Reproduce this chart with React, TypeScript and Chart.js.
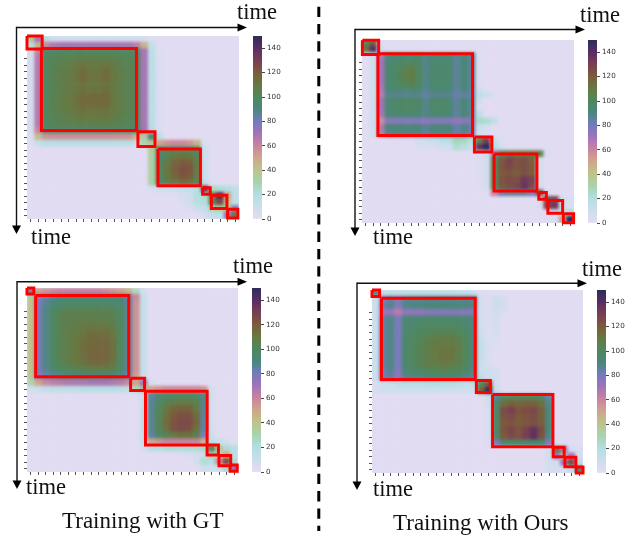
import React, { useEffect, useRef } from "react";
import { Chart, registerables } from "chart.js";

Chart.register(...registerables);

const GRID = 28;
const BAR_TICKS_MAX = 150;
const xTicks = [0.5, 1.5, 2.5, 3.5, 4.5, 5.5, 6.5, 7.5, 8.5, 9.5, 10.5, 11.5, 12.5, 13.5, 14.5, 15.5, 16.5, 17.5, 18.5, 19.5, 20.5, 21.5, 22.5, 23.5, 24.5, 25.5, 26.5, 27.5];
const yTicks = [3.5, 4.5, 5.5, 6.5, 7.5, 8.5, 9.5, 10.5, 11.5, 12.5, 13.5, 14.5, 15.5, 16.5, 17.5, 18.5, 19.5, 20.5, 21.5, 22.5, 23.5, 24.5, 25.5, 26.5, 27.5];

const cmapStops = [
  [0, 226, 220, 242], [10, 202, 222, 236], [20, 178, 222, 224], [30, 168, 210, 170],
  [40, 190, 195, 140], [50, 205, 165, 140], [60, 200, 130, 160], [70, 160, 115, 185],
  [80, 112, 125, 185], [90, 74, 135, 122], [100, 80, 135, 94], [110, 104, 120, 65],
  [120, 125, 90, 60], [130, 120, 60, 85], [140, 85, 45, 100], [150, 42, 45, 90],
];

const boxesA = [[0, 2], [1.9, 14.45], [14.65, 16.9], [17.3, 22.9], [23.2, 24.2], [24.35, 26.4], [26.5, 27.85]];
const boxesB = [[0.05, 2.2], [2.1, 14.6], [14.85, 17.15], [17.45, 23.1], [23.35, 24.35], [24.55, 26.5], [26.6, 27.95]];
const boxesC = [[0, 0.9], [1.15, 13.5], [13.75, 15.6], [15.72, 23.9], [23.9, 25.4], [25.48, 27.03], [26.95, 27.9]];
const boxesD = [[0, 1], [1.25, 13.7], [13.85, 15.7], [16, 24], [24.05, 25.5], [25.6, 27.05], [27.1, 28]];

// each row: first number = first column, then cell values (all other cells are 0)
const heatA = [
  [0, 40, 70, 20, 8, 8, 8, 8, 8, 8, 8, 8, 8, 8, 8, 8, 6, 2],
  [0, 20, 45, 58, 66, 68, 68, 68, 68, 68, 68, 68, 68, 68, 68, 62, 45, 12, 2],
  [0, 6, 62, 95, 98, 100, 100, 100, 100, 100, 100, 100, 100, 98, 98, 95, 68, 15, 3],
  [0, 6, 65, 98, 102, 104, 104, 106, 106, 106, 106, 106, 104, 104, 102, 98, 68, 16, 3],
  [0, 6, 65, 100, 103, 105, 107, 109, 111, 110, 110, 111, 108, 105, 103, 100, 68, 16, 3],
  [0, 6, 65, 100, 104, 106, 108, 111, 114, 111, 111, 114, 109, 106, 104, 100, 68, 16, 3],
  [0, 6, 65, 100, 104, 107, 109, 112, 115, 112, 112, 115, 110, 107, 104, 100, 68, 16, 3],
  [0, 6, 65, 100, 104, 106, 108, 110, 112, 110, 110, 112, 109, 106, 104, 100, 68, 16, 3],
  [0, 6, 65, 100, 104, 106, 108, 111, 113, 112, 112, 114, 109, 106, 104, 100, 68, 16, 3],
  [0, 6, 65, 100, 104, 107, 109, 112, 115, 115, 115, 115, 110, 107, 104, 100, 68, 16, 3],
  [0, 6, 65, 100, 104, 107, 109, 112, 115, 115, 115, 115, 110, 107, 104, 100, 68, 16, 3],
  [0, 6, 65, 100, 104, 106, 108, 111, 113, 111, 111, 112, 109, 106, 104, 100, 68, 16, 3],
  [0, 6, 65, 100, 103, 105, 107, 109, 110, 109, 109, 110, 108, 105, 103, 100, 68, 16, 3],
  [0, 6, 65, 98, 102, 104, 105, 106, 106, 106, 106, 107, 105, 104, 102, 98, 68, 16, 3],
  [0, 6, 60, 94, 96, 96, 96, 96, 96, 96, 96, 96, 96, 96, 96, 94, 70, 20, 4],
  [0, 3, 42, 55, 56, 56, 56, 56, 56, 56, 56, 56, 56, 55, 55, 45, 35, 90, 15],
  [0, 2, 12, 18, 18, 18, 18, 18, 18, 18, 18, 18, 18, 18, 18, 12, 28, 36, 50, 55, 58, 58, 55, 45, 4],
  [15, 2, 35, 92, 100, 100, 100, 100, 96, 8],
  [16, 32, 92, 104, 110, 112, 110, 102, 8],
  [16, 32, 96, 108, 116, 120, 118, 106, 10],
  [16, 32, 98, 110, 118, 123, 122, 108, 10],
  [16, 32, 98, 110, 116, 122, 120, 106, 10],
  [16, 30, 94, 104, 110, 114, 112, 102, 12],
  [16, 4, 8, 10, 10, 10, 12, 18, 135, 25, 22, 20, 15],
  [20, 6, 8, 20, 25, 105, 145, 50, 15],
  [20, 4, 8, 18, 20, 100, 125, 40, 15],
  [21, 4, 10, 12, 28, 32, 32, 75],
  [23, 6, 12, 14, 75, 108],
];

const heatB = [
  [0, 100, 120, 4],
  [0, 112, 138, 8],
  [1, 8, 66, 90, 91, 92, 92, 92, 88, 92, 92, 92, 86, 89, 84, 3],
  [1, 8, 70, 92, 95, 97, 98, 96, 88, 94, 94, 92, 85, 91, 85, 3],
  [1, 8, 70, 93, 97, 102, 106, 99, 88, 95, 95, 94, 85, 91, 85, 3],
  [1, 8, 70, 93, 98, 104, 109, 101, 88, 95, 95, 94, 85, 91, 85, 3],
  [1, 8, 70, 93, 97, 102, 106, 99, 88, 95, 95, 94, 85, 91, 85, 3],
  [1, 8, 68, 92, 94, 96, 97, 95, 88, 94, 94, 92, 85, 90, 85, 6],
  [1, 8, 64, 87, 87, 87, 87, 87, 84, 87, 87, 87, 82, 85, 83, 14, 10, 4],
  [1, 8, 70, 93, 96, 98, 99, 96, 88, 96, 96, 94, 85, 91, 85, 6],
  [1, 8, 70, 93, 96, 98, 99, 96, 88, 96, 96, 94, 85, 91, 85, 3],
  [1, 8, 68, 91, 93, 93, 93, 93, 88, 93, 93, 91, 85, 90, 85, 14],
  [1, 8, 56, 75, 76, 76, 76, 76, 74, 76, 76, 76, 72, 75, 75, 24, 22, 14],
  [1, 8, 66, 90, 91, 91, 91, 91, 86, 91, 91, 91, 83, 88, 83, 10, 6],
  [1, 8, 62, 86, 88, 88, 88, 88, 84, 88, 88, 88, 82, 86, 80, 6],
  [7, 6, 8, 10, 14, 16, 28, 26, 18, 105, 130, 12, 3],
  [7, 4, 4, 4, 8, 8, 22, 18, 10, 135, 150, 18, 6],
  [15, 3, 10, 72, 102, 108, 108, 108, 108, 104, 4],
  [15, 2, 6, 100, 120, 128, 122, 124, 118, 5],
  [15, 2, 6, 102, 122, 126, 122, 124, 120, 5],
  [15, 2, 6, 102, 120, 122, 119, 124, 120, 5],
  [15, 2, 6, 102, 122, 125, 124, 133, 128, 5],
  [15, 2, 6, 100, 120, 124, 126, 135, 126, 5],
  [17, 60, 82, 85, 85, 85, 78, 125, 6],
  [23, 6, 125, 128, 8, 4],
  [23, 4, 128, 132, 10, 4],
  [25, 6, 14, 22],
  [25, 4, 50, 150],
];

const heatC = [
  [0, 80, 50, 55, 58, 60, 60, 60, 60, 60, 60, 58, 55, 52, 45, 25, 6],
  [0, 35, 72, 82, 88, 90, 92, 92, 92, 92, 92, 92, 90, 90, 82, 58, 12],
  [0, 40, 78, 86, 92, 94, 96, 96, 96, 96, 96, 96, 94, 92, 85, 55, 12],
  [0, 40, 78, 88, 97, 102, 104, 104, 104, 104, 104, 104, 102, 98, 85, 55, 12],
  [0, 40, 78, 88, 98, 104, 106, 106, 106, 106, 106, 106, 104, 99, 85, 55, 12],
  [0, 40, 78, 88, 98, 104, 106, 106, 108, 108, 108, 108, 106, 100, 85, 55, 12],
  [0, 40, 78, 88, 98, 104, 107, 108, 110, 112, 112, 112, 108, 100, 85, 55, 12],
  [0, 40, 78, 88, 98, 104, 107, 109, 112, 114, 114, 114, 110, 100, 85, 55, 12],
  [0, 40, 78, 88, 98, 104, 107, 110, 113, 115, 115, 115, 112, 100, 85, 55, 12],
  [0, 40, 78, 88, 98, 104, 107, 110, 113, 116, 116, 116, 112, 100, 85, 55, 12],
  [0, 40, 78, 88, 98, 104, 107, 110, 113, 116, 117, 116, 112, 100, 85, 55, 12],
  [0, 40, 78, 88, 97, 103, 106, 109, 112, 114, 115, 114, 110, 98, 85, 55, 12],
  [0, 40, 78, 86, 94, 98, 100, 102, 104, 106, 106, 106, 104, 95, 85, 55, 12],
  [0, 38, 72, 82, 86, 88, 90, 90, 92, 92, 92, 92, 90, 88, 80, 52, 10],
  [0, 28, 50, 58, 62, 64, 66, 66, 66, 68, 68, 68, 66, 64, 58, 50, 70, 5],
  [0, 6, 10, 14, 15, 15, 15, 15, 18, 18, 18, 18, 18, 16, 14, 25, 45, 50, 55, 58, 58, 58, 58, 58, 55, 6],
  [14, 3, 8, 84, 92, 96, 98, 98, 98, 96, 88, 6],
  [15, 10, 86, 98, 104, 106, 108, 108, 104, 88, 5],
  [15, 12, 86, 100, 110, 116, 118, 118, 110, 86, 5],
  [15, 12, 86, 102, 112, 120, 123, 123, 114, 86, 5],
  [15, 12, 86, 102, 114, 122, 125, 125, 116, 84, 5],
  [15, 12, 86, 102, 112, 122, 125, 123, 112, 84, 6],
  [15, 12, 84, 96, 102, 108, 112, 112, 104, 76, 8],
  [15, 10, 50, 55, 60, 60, 60, 60, 60, 45, 15, 12, 6],
  [15, 5, 18, 20, 22, 22, 22, 22, 22, 25, 95, 40, 22, 18],
  [20, 2, 4, 6, 10, 30, 25, 48, 15],
  [22, 6, 22, 18, 58, 125, 22],
  [23, 8, 8, 10, 25, 75],
];

const heatD = [
  [0, 90, 14, 16, 16, 16, 16, 16, 16, 16, 16, 16, 14, 14, 10, 2, 2],
  [0, 10, 75, 85, 76, 86, 87, 87, 87, 87, 87, 87, 87, 86, 85, 6, 2, 10, 6],
  [0, 10, 82, 87, 76, 87, 89, 89, 91, 91, 91, 91, 91, 89, 87, 6, 2, 10, 6],
  [0, 10, 70, 72, 64, 73, 74, 74, 76, 76, 76, 76, 76, 76, 76, 6, 2, 8, 4],
  [0, 10, 84, 87, 78, 91, 93, 93, 95, 95, 95, 95, 93, 93, 89, 6, 2, 6],
  [0, 10, 84, 88, 78, 93, 95, 97, 99, 99, 99, 99, 97, 95, 89, 6, 2, 6],
  [0, 10, 84, 88, 78, 93, 97, 99, 101, 103, 103, 103, 101, 97, 89, 8, 2, 5],
  [0, 10, 84, 88, 78, 95, 99, 101, 105, 107, 108, 108, 105, 99, 89, 10, 3, 4],
  [0, 10, 84, 88, 78, 95, 99, 103, 107, 109, 109, 109, 107, 101, 89, 12, 4, 3],
  [0, 10, 84, 88, 78, 95, 101, 103, 107, 109, 111, 111, 107, 101, 89, 12, 4],
  [0, 10, 84, 88, 78, 95, 101, 103, 107, 109, 111, 111, 107, 101, 89, 12, 4],
  [0, 10, 84, 88, 78, 95, 99, 103, 107, 107, 109, 107, 105, 99, 89, 10, 4],
  [0, 10, 82, 86, 76, 91, 95, 97, 101, 101, 103, 101, 101, 97, 87, 10, 8, 6],
  [0, 10, 78, 84, 74, 87, 89, 89, 91, 91, 91, 91, 91, 87, 83, 14, 8, 6],
  [0, 3, 8, 10, 14, 16, 16, 16, 18, 18, 18, 18, 14, 12, 14, 100, 122, 6],
  [0, 5, 8, 8, 8, 8, 8, 8, 8, 8, 8, 8, 8, 8, 8, 118, 148, 10],
  [15, 8, 86, 98, 102, 102, 102, 102, 98, 82],
  [15, 6, 92, 114, 118, 116, 118, 118, 112, 88],
  [15, 4, 96, 124, 129, 122, 124, 126, 118, 90],
  [15, 4, 98, 122, 125, 120, 122, 124, 118, 90],
  [15, 4, 96, 120, 122, 119, 121, 123, 118, 90],
  [15, 4, 98, 122, 127, 122, 129, 137, 124, 90],
  [15, 4, 96, 120, 125, 122, 129, 138, 122, 88],
  [15, 2, 76, 92, 96, 96, 96, 96, 92, 76, 6, 4],
  [23, 6, 105, 70, 5, 4],
  [23, 6, 70, 38, 70, 6],
  [23, 6, 6, 70, 125, 14],
  [23, 6, 6, 6, 16, 92],
];

const barLevels = [0, 2, 4, 6, 8, 10, 12, 14, 16, 18, 20, 22, 24, 26, 28, 30, 32, 34, 36, 38, 40, 42, 44, 46, 48, 50, 52, 54, 56, 58, 60, 62, 64, 66, 68, 70, 72, 74, 76, 78, 80, 82, 84, 86, 88, 90, 92, 94, 96, 98, 100, 102, 104, 106, 108, 110, 112, 114, 116, 118, 120, 122, 124, 126, 128, 130, 132, 134, 136, 138, 140, 142, 144, 146, 148];

const M = 8;
const PANELS = [
  { heat: heatA, boxes: boxesA, x: 27, y: 36, w: 212, h: 183, barX: 253 },
  { heat: heatB, boxes: boxesB, x: 362, y: 40, w: 212, h: 183, barX: 588 },
  { heat: heatC, boxes: boxesC, x: 27, y: 288, w: 211, h: 184, barX: 252 },
  { heat: heatD, boxes: boxesD, x: 372, y: 290, w: 211, h: 183, barX: 597 },
];
const TIMES = [
  [237, 20], [31, 245], [580, 23], [373, 245], [233, 274], [26, 495], [582, 277], [373, 497],
];
const ARROWS = [
  { x: 16.5, y: 27.5, hx: 247, vy: 234 },
  { x: 355, y: 29.5, hx: 585, vy: 236 },
  { x: 17, y: 281.7, hx: 247, vy: 489 },
  { x: 357, y: 283.3, hx: 587, vy: 490 },
];

function colorOf(v: number): string {
  for (let i = 1; i < cmapStops.length; i++) {
    const a = cmapStops[i - 1];
    const b = cmapStops[i];
    if (v <= b[0]) {
      const t = (v - a[0]) / (b[0] - a[0]);
      const c = [1, 2, 3].map((k) => Math.round(a[k] + (b[k] - a[k]) * t));
      return `rgb(${c[0]},${c[1]},${c[2]})`;
    }
  }
  const l = cmapStops[cmapStops.length - 1];
  return `rgb(${l[1]},${l[2]},${l[3]})`;
}

function cellsOf(rows: number[][]) {
  const out: { x: number; y: number; v: number }[] = [];
  rows.forEach((row, r) => {
    const start = row[0];
    for (let c = 0; c < GRID; c++) {
      const k = c - start + 1;
      const v = k >= 1 && k < row.length ? row[k] : 0;
      out.push({ x: c + 0.5, y: r + 0.5, v });
    }
  });
  return out;
}

function heatConfig(rows: number[][]): any {
  const cells = cellsOf(rows);
  return {
    type: "scatter",
    data: {
      datasets: [
        {
          data: cells,
          pointStyle: "rect",
          pointRadius: 5.7,
          pointBorderWidth: 0,
          pointBackgroundColor: (ctx: any) => colorOf(cells[ctx.dataIndex].v),
        },
      ],
    },
    options: {
      responsive: false,
      animation: false,
      layout: { padding: 0, autoPadding: false },
      plugins: { legend: { display: false }, tooltip: { enabled: false } },
      scales: {
        x: { type: "linear", min: 0, max: GRID, display: false },
        y: { type: "linear", min: 0, max: GRID, reverse: true, display: false },
      },
    },
  };
}

function timeAxis(list: number[], extra: any): any {
  return {
    type: "linear",
    min: 0,
    max: GRID,
    afterBuildTicks: (s: any) => {
      s.ticks = list.map((value) => ({ value }));
    },
    ticks: { callback: () => "", autoSkip: false, padding: 0, maxRotation: 0 },
    grid: { drawOnChartArea: false, drawTicks: true, tickLength: 3, tickColor: "#555", tickWidth: 1 },
    border: { display: false },
    ...extra,
  };
}

function overlayConfig(boxes: number[][]): any {
  return {
    type: "scatter",
    data: {
      datasets: boxes.map(([s, e]) => ({
        data: [
          { x: s, y: s },
          { x: e, y: s },
          { x: e, y: e },
          { x: s, y: e },
          { x: s, y: s },
        ],
        showLine: true,
        borderColor: "#ff0000",
        borderWidth: 3,
        borderJoinStyle: "miter",
        pointRadius: 0,
        clip: false,
      })),
    },
    options: {
      responsive: false,
      animation: false,
      layout: { padding: { top: M, right: M, left: 0, bottom: 0 }, autoPadding: false },
      plugins: { legend: { display: false }, tooltip: { enabled: false } },
      scales: {
        x: timeAxis(xTicks, { position: "bottom", afterFit: (s: any) => { s.height = M; } }),
        y: timeAxis(yTicks, { position: "left", reverse: true, afterFit: (s: any) => { s.width = M; } }),
      },
    },
  };
}

function barConfig(): any {
  return {
    type: "bar",
    data: {
      labels: ["count"],
      datasets: barLevels.map((v) => ({
        data: [[v, v + 2.6]],
        backgroundColor: colorOf(v + 1),
        borderWidth: 0,
        barPercentage: 1,
        categoryPercentage: 1,
      })),
    },
    options: {
      responsive: false,
      animation: false,
      layout: { padding: { top: M, bottom: M, left: 0, right: 0 }, autoPadding: false },
      plugins: { legend: { display: false }, tooltip: { enabled: false } },
      scales: {
        x: { display: false, stacked: false },
        y: {
          position: "right",
          min: 0,
          max: BAR_TICKS_MAX,
          afterFit: (s: any) => { s.width = 31; },
          ticks: {
            stepSize: 20,
            includeBounds: false,
            padding: 2,
            color: "#333",
            font: { family: "DejaVu Sans", size: 7.2 },
          },
          grid: { drawOnChartArea: false, drawTicks: true, tickLength: 3, tickColor: "#444" },
          border: { display: false },
        },
      },
      datasets: { bar: { grouped: false } },
    },
  };
}

function ChartCanvas({ make, left, top, width, height, blur }: any) {
  const ref = useRef<HTMLCanvasElement>(null);
  useEffect(() => {
    const chart = new Chart(ref.current as HTMLCanvasElement, make());
    return () => chart.destroy();
  }, []);
  return (
    <canvas
      ref={ref}
      width={width}
      height={height}
      style={{ position: "absolute", left, top, width, height, filter: blur ? `blur(${blur}px)` : undefined }}
    />
  );
}

const textStyle: React.CSSProperties = {
  position: "absolute",
  fontFamily: "'Liberation Serif', serif",
  color: "#111",
  whiteSpace: "nowrap",
  lineHeight: "24px",
};

export default function App() {
  return (
    <div style={{ position: "absolute", left: 0, top: 0, width: 641, height: 535, background: "#fff", overflow: "hidden" }}>
      {PANELS.map((p, i) => (
        <React.Fragment key={i}>
          <div style={{ position: "absolute", left: p.x, top: p.y, width: p.w, height: p.h, overflow: "hidden", background: colorOf(0) }}>
            <ChartCanvas make={() => heatConfig(p.heat)} left={0} top={0} width={p.w} height={p.h} blur={1.7} />
          </div>
          <ChartCanvas make={() => overlayConfig(p.boxes)} left={p.x - M} top={p.y - M} width={p.w + 2 * M} height={p.h + 2 * M} blur={0.45} />
          <ChartCanvas make={barConfig} left={p.barX} top={p.y - M} width={40} height={p.h + 2 * M} blur={0.45} />
        </React.Fragment>
      ))}
      <svg width={641} height={535} style={{ position: "absolute", left: 0, top: 0, pointerEvents: "none" }}>
        {ARROWS.map((a, i) => (
          <g key={i}>
            <line x1={a.x} y1={a.y} x2={a.hx - 8} y2={a.y} stroke="#111" strokeWidth={1.4} />
            <line x1={a.x} y1={a.y - 0.7} x2={a.x} y2={a.vy - 8} stroke="#111" strokeWidth={1.4} />
            <polygon points={`${a.hx},${a.y} ${a.hx - 9.5},${a.y - 4} ${a.hx - 9.5},${a.y + 4}`} fill="#000" />
            <polygon points={`${a.x},${a.vy} ${a.x - 4.5},${a.vy - 8.5} ${a.x + 4.5},${a.vy - 8.5}`} fill="#000" />
          </g>
        ))}
        <line x1={318.8} y1={6.7} x2={318.8} y2={531} stroke="#000" strokeWidth={3} strokeDasharray="10.3 7" />
      </svg>
      {TIMES.map(([x, b], i) => (
        <span key={i} style={{ ...textStyle, left: x, top: b - 20, fontSize: 22.5 }}>time</span>
      ))}
      <span style={{ ...textStyle, left: 62, top: 509, fontSize: 23 }}>Training with GT</span>
      <span style={{ ...textStyle, left: 393, top: 511, fontSize: 23 }}>Training with Ours</span>
    </div>
  );
}
